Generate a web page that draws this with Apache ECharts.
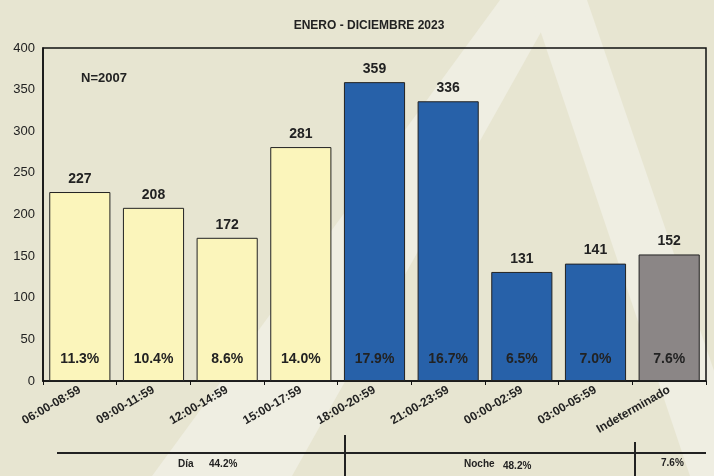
<!DOCTYPE html>
<html>
<head>
<meta charset="utf-8">
<script src="https://cdn.jsdelivr.net/npm/echarts@6/dist/echarts.min.js"></script>
<style>
  html, body { margin: 0; padding: 0; background: #e7e5d1; }
  #chart { width: 714px; height: 476px; }
</style>
</head>
<body>
<div id="chart"></div>
<script>
const categories = ["06:00-08:59", "09:00-11:59", "12:00-14:59", "15:00-17:59", "18:00-20:59",
  "21:00-23:59", "00:00-02:59", "03:00-05:59", "Indeterminado"];
const counts = [227, 208, 172, 281, 359, 336, 131, 141, 152];
const percents = ["11.3%", "10.4%", "8.6%", "14.0%", "17.9%", "16.7%", "6.5%", "7.0%", "7.6%"];
const groups = ["Día", "Noche", ""];
const groupPercents = ["44.2%", "48.2%", "7.6%"];
const yTicks = [0, 50, 100, 150, 200, 250, 300, 350, 400];

const yellow = "#fbf5bb";
const blue = "#2761a9";
const grey = "#8b8686";
const barColor = (i) => (i < 4 ? yellow : i < 8 ? blue : grey);

const chart = echarts.init(document.getElementById("chart"));

const bold = "bold";
const font = "'Liberation Sans Narrow', 'Arial Narrow', 'Liberation Sans', sans-serif";
const light = "#efeee2";

const option = {
  backgroundColor: "#e7e5d1",
  animation: false,
  textStyle: { fontFamily: font },
  title: {
    text: "ENERO - DICIEMBRE 2023",
    left: 364,
    top: 15,
    textAlign: "center",
    textStyle: { fontSize: 12, fontWeight: bold, color: "#222", fontFamily: font },
  },
  grid: {
    left: 43,
    right: 8,
    top: 48,
    bottom: 95,
    show: true,
    borderColor: "#111",
    borderWidth: 1.5,
    backgroundColor: "transparent",
  },
  xAxis: {
    type: "category",
    data: categories,
    axisLine: { lineStyle: { color: "#111", width: 1.5 } },
    axisTick: { show: true, length: 4, lineStyle: { color: "#111" } },
    axisLabel: {
      rotate: 30,
      interval: 0,
      margin: 8,
      fontSize: 12,
      fontWeight: bold,
      color: "#222",
      fontFamily: font,
    },
  },
  yAxis: {
    type: "value",
    min: yTicks[0],
    max: yTicks[yTicks.length - 1],
    interval: 50,
    splitLine: { show: false },
    axisLine: { show: true, lineStyle: { color: "#111", width: 1.5 } },
    axisTick: { show: false },
    axisLabel: { fontSize: 13, color: "#222", margin: 8, fontFamily: font },
  },
  series: [
    {
      type: "bar",
      data: counts.map((v, i) => ({ value: v, itemStyle: { color: barColor(i) } })),
      barCategoryGap: "17%",
      itemStyle: { borderColor: "#222", borderWidth: 1 },
      label: {
        show: true,
        position: "top",
        distance: 6,
        fontSize: 14,
        fontWeight: bold,
        color: "#222",
        fontFamily: font,
      },
      z: 2,
    },
    {
      type: "bar",
      data: counts,
      barGap: "-100%",
      barCategoryGap: "17%",
      itemStyle: { color: "transparent" },
      label: {
        show: true,
        position: "insideBottom",
        distance: 15,
        formatter: (p) => percents[p.dataIndex],
        fontSize: 14,
        fontWeight: bold,
        color: "#222",
        fontFamily: font,
      },
      z: 3,
    },
  ],
  graphic: [
    // watermark "A"
    {
      type: "polygon", z: -10, silent: true,
      shape: { points: [[500, 0], [559, 0], [292, 476], [152, 476]] },
      style: { fill: light },
    },
    {
      type: "polygon", z: -10, silent: true,
      shape: { points: [[530, 0], [587, 0], [750, 476], [690, 476]] },
      style: { fill: light },
    },
    {
      type: "text", left: 81, top: 72,
      style: { text: "N=2007", font: "bold 13px " + font, fill: "#222" },
    },
    // group brackets
    { type: "line", shape: { x1: 57, y1: 453, x2: 706, y2: 453 }, style: { stroke: "#222", lineWidth: 2 } },
    { type: "line", shape: { x1: 345, y1: 435, x2: 345, y2: 476 }, style: { stroke: "#222", lineWidth: 2 } },
    { type: "line", shape: { x1: 635, y1: 442, x2: 635, y2: 476 }, style: { stroke: "#222", lineWidth: 2 } },
    { type: "text", left: 178, top: 459, style: { text: groups[0], font: "bold 10px " + font, fill: "#222" } },
    { type: "text", left: 209, top: 459, style: { text: groupPercents[0], font: "bold 10px " + font, fill: "#222" } },
    { type: "text", left: 464, top: 459, style: { text: groups[1], font: "bold 10px " + font, fill: "#222" } },
    { type: "text", left: 503, top: 461, style: { text: groupPercents[1], font: "bold 10px " + font, fill: "#222" } },
    { type: "text", left: 661, top: 458, style: { text: groupPercents[2], font: "bold 10px " + font, fill: "#222" } },
  ],
};

chart.setOption(option);
</script>
</body>
</html>
